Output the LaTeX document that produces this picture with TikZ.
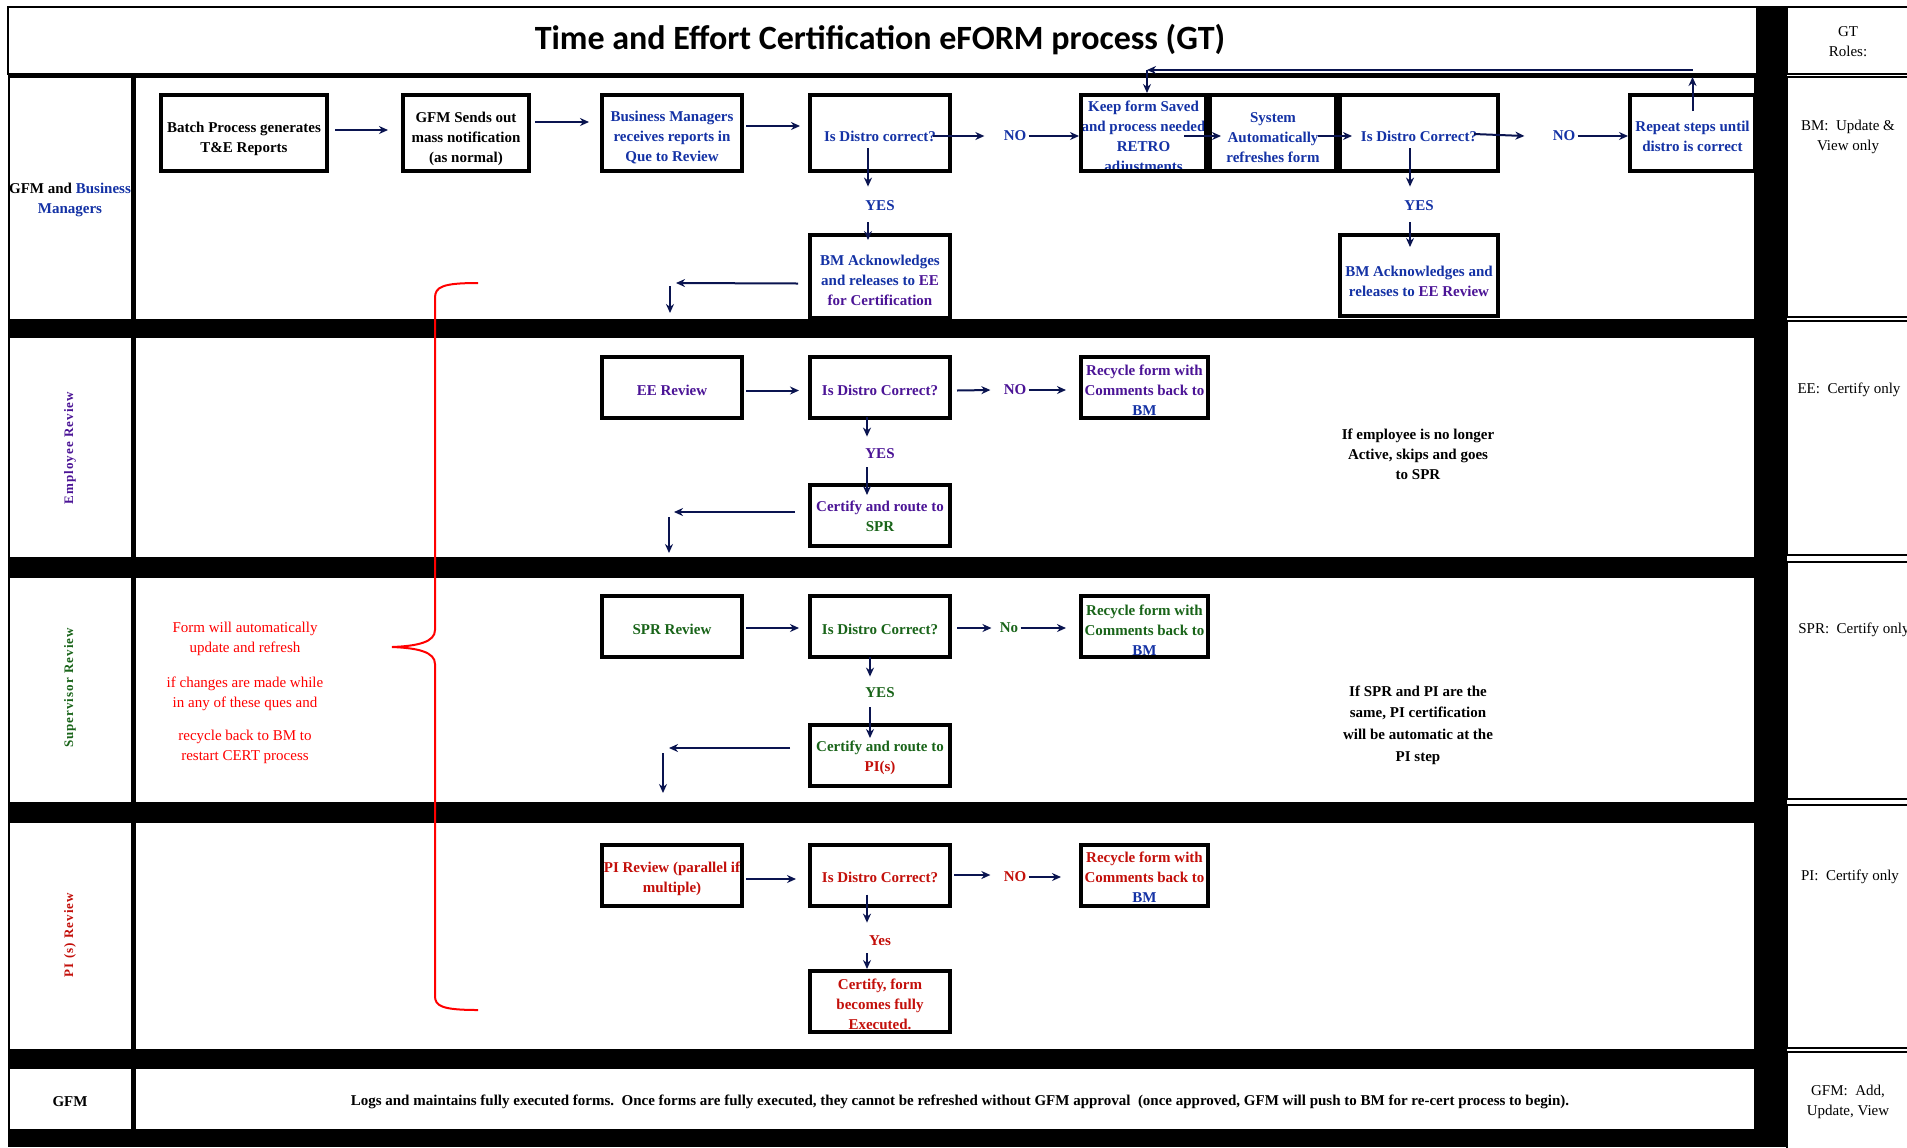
\documentclass[tikz,border=0pt]{standalone}
\usepackage{fontspec}
\setmainfont{Liberation Serif}
\newfontfamily\titlefont{Carlito}
\usepackage{tikz}
\usetikzlibrary{shapes.geometric, arrows, arrows.meta}
\definecolor{bmblue}{RGB}{20,50,165}
\definecolor{eepurple}{RGB}{75,20,150}
\definecolor{sprgreen}{RGB}{25,100,25}
\definecolor{pired}{RGB}{195,15,10}
\definecolor{notered}{RGB}{255,0,0}
\definecolor{arrownavy}{RGB}{10,20,80}
\newcommand{\boxfont}{\fontsize{7.5}{10}\selectfont\bfseries}
\newcommand{\rolefont}{\fontsize{7.5}{10}\selectfont}
\newcommand{\lanefont}{\fontsize{6.5}{8}\selectfont\bfseries\addfontfeature{LetterSpace=8}}
\tikzstyle{arrow} = [line width=1pt,->,>={Stealth[length=4.5pt,width=4pt]},draw=arrownavy]
\tikzstyle{stepbox} = [rectangle, draw=black, line width=2pt, align=center, inner sep=1pt, font=\boxfont]
\tikzstyle{toprow} = [stepbox, minimum height=38pt]
\tikzstyle{lanebox} = [stepbox, minimum width=70pt, minimum height=30.5pt, inner ysep=0pt]
\tikzstyle{ans} = [font=\boxfont, inner sep=1pt]
\tikzstyle{note} = [align=center, font=\boxfont]
\tikzstyle{role} = [align=center, font=\rolefont]
\tikzstyle{lanetitle} = [rotate=90, font=\lanefont]
\tikzstyle{cell} = [fill=white, draw=black, line width=0.6pt]

\begin{document}
\begin{tikzpicture}[x=0.5pt, y=-0.5pt, node distance=104pt]
		\useasboundingbox (0,0) rectangle (1907,1147);
		% swim lanes
		\fill [black] (8,74) rectangle (1787,1147);
		\fill [black] (1757,7) rectangle (1787,74);
		\draw [line width=1.2pt] (8,7) rectangle (1757,74);
		\draw [line width=1.2pt] (1757,7) -- (1907,7);
		\foreach \t/\b in {77/320, 337/558, 577/803, 822/1050, 1068/1130} {
			\draw [cell] (9,\t) rectangle (132,\b);
			\draw [cell] (135,\t) rectangle (1755,\b);
		}
		\foreach \t/\b in {7/74, 77/317, 321/555, 562/799, 805/1048, 1052/1160}
			\draw [line width=0.8pt] (1787,\t) rectangle (1920,\b);
		\node (title) [font=\titlefont\bfseries\fontsize{17}{20}\selectfont] at (880,40) {Time and Effort Certification eFORM process (GT)};
		% lane names
		\node (lane1) [note] at (70,200) {GFM and \textcolor{bmblue}{Business}\\\textcolor{bmblue}{Managers}};
		\node (lane2) [lanetitle, text=eepurple] at (70,448) {Employee Review};
		\node (lane3) [lanetitle, text=sprgreen] at (70,688) {Supervisor Review};
		\node (lane4) [lanetitle, text=pired] at (70,935) {PI (s) Review};
		\node (lane5) [note] at (70,1102) {GFM};
		% roles
		\node (rolehead) [role] at (1848,42) {GT\\Roles:};
		\node (role1) [role] at (1848,137) {BM:\ \ Update \&\\View only};
		\node (role2) [role] at (1849,390) {EE:\ \ Certify only};
		\node (role3) [role] at (1854,630) {SPR:\ \ Certify only};
		\node (role4) [role] at (1850,877) {PI:\ \ Certify only};
		\node (role5) [role] at (1848,1102) {GFM:\ \ Add,\\Update, View};

		% GFM and Business Managers
		\node (isd1) [toprow, minimum width=70pt, text height=9pt, text=bmblue] at (880,133) {Is Distro correct?};
		\node (bmrec) [toprow, minimum width=70pt, text height=30.2pt, text=bmblue, left of=isd1] {Business Managers\\receives reports in\\Que to Review};
		\node (gfm) [toprow, minimum width=63pt, text height=30.7pt, left of=bmrec, node distance=103pt] {GFM Sends out\\mass notification\\(as normal)};
		\node (batch) [toprow, minimum width=83pt, text height=21.2pt, left of=gfm, node distance=111pt] {Batch Process generates\\T\&E Reports};
		\node (bmack1) [stepbox, minimum width=70pt, minimum height=41.5pt, text height=28.8pt, text=bmblue] at (880,276.5) {BM Acknowledges\\and releases to \textcolor{eepurple}{EE}\\\textcolor{eepurple}{for Certification}};
		\begin{scope}
			\clip (1079,93) rectangle (1208,172);
			\node (keeptext) [note, text=bmblue] at (1143.5,138) {Keep form Saved\\and process needed\\RETRO\\adjustments};
		\end{scope}
		\node (keep) [toprow, minimum width=62.5pt] at (1143.5,133) {};
		\node (sys) [toprow, minimum width=63pt, text height=29.6pt, text=bmblue, right of=keep, node distance=64.75pt] {System\\Automatically\\refreshes form};
		\node (isd2) [toprow, minimum width=79pt, text height=9pt, text=bmblue, right of=sys, node distance=73pt] {Is Distro Correct?};
		\node (rep) [toprow, minimum width=62.5pt, text height=18.8pt, text=bmblue] at (1692.5,133) {Repeat steps until\\distro is correct};
		\node (bmack2) [stepbox, minimum width=79pt, minimum height=40.5pt, text height=20.6pt, text=bmblue] at (1419,275.5) {BM Acknowledges and\\releases to \textcolor{eepurple}{EE Review}};
		\node (no1) [ans, text=bmblue] at (1015,136) {NO};
		\node (yes1) [ans, text=bmblue] at (880,206) {YES};
		\node (no2) [ans, text=bmblue] at (1564,136) {NO};
		\node (yes2) [ans, text=bmblue] at (1419,206) {YES};
		\coordinate (loop) at (1147,70);
		\coordinate (bmout) at (676,283);
		\coordinate (bmdrop) at (670,286);
		\coordinate (bmdropend) at (670,313);

		\draw [arrow] ([xshift=3pt,yshift=1.5pt]batch.east) -- ([xshift=-6.5pt,yshift=1.5pt]gfm.west);
		\draw [arrow] ([xshift=2pt,yshift=5.5pt]gfm.east) -- ([xshift=-5.5pt,yshift=5.5pt]bmrec.west);
		\draw [arrow] ([xshift=1pt,yshift=3.5pt]bmrec.east) -- ([xshift=-4pt,yshift=3.5pt]isd1.west);
		\draw [arrow] ([xshift=-9.5pt,yshift=-1.5pt]isd1.east) -- ([xshift=-8.5pt]no1.west);
		\draw [arrow] (no1.east) -- (no1.east -| keep.west);
		\draw [arrow] ([xshift=-12pt,yshift=-1.5pt]keep.east) -- ([xshift=6.5pt,yshift=-1.5pt]sys.west);
		\draw [arrow] ([xshift=-10pt,yshift=-1.5pt]sys.east) -- ([xshift=7pt,yshift=-1.5pt]isd2.west);
		\draw [arrow] ([xshift=-13pt,yshift=-0.5pt]isd2.east) -- ([xshift=-13pt]no2.west);
		\draw [arrow] (no2.east) -- (no2.east -| rep.west);
		\draw [arrow] ([xshift=-6pt,yshift=12.5pt]isd1.south) -- ([xshift=-6pt,yshift=6pt]yes1.north);
		\draw [arrow] ([xshift=-6pt,yshift=-4.5pt]yes1.south) -- ([xshift=-6pt,yshift=-3.5pt]bmack1.north);
		\draw [arrow] ([xshift=-4.5pt,yshift=12.5pt]isd2.south) -- ([xshift=-4.5pt,yshift=6pt]yes2.north);
		\draw [arrow] ([xshift=-4.5pt,yshift=-4.5pt]yes2.south) -- ([xshift=-4.5pt,yshift=-7pt]bmack2.north);
		\draw [arrow] ([xshift=-5pt,yshift=-3.5pt]bmack1.west) -- (bmout);
		\draw [arrow] (bmdrop) -- (bmdropend);
		\draw [arrow] ([yshift=-9pt]rep.north) -- ([yshift=8pt]rep.north);
		\draw [arrow] ([yshift=11.5pt]rep.north) -- (loop);
		\draw [arrow] (loop) -- (loop |- keep.north);

		% Employee Review
		\node (isdee) [lanebox, text height=7.6pt, text=eepurple] at (880,387.5) {Is Distro Correct?};
		\node (eerev) [lanebox, text height=7.6pt, text=eepurple, left of=isdee] {EE Review};
		\node (recee) [lanebox, minimum width=63.5pt, text height=27.6pt, text=eepurple, right of=isdee, node distance=132.25pt] {Recycle form with\\Comments back to\\\textcolor{bmblue}{BM}};
		\node (certee) [lanebox, text height=17pt, text=eepurple, below of=isdee, node distance=63.75pt] {Certify and route to\\\textcolor{sprgreen}{SPR}};
		\node (noee) [ans, text=eepurple] at (1015,390) {NO};
		\node (yesee) [ans, text=eepurple] at (880,454) {YES};
		\node (noteee) [note] at (1418,454) {If employee is no longer\\Active, skips and goes\\to SPR};
		\coordinate (eeout) at (674,512);
		\coordinate (eedrop) at (669,517);
		\coordinate (eedropend) at (669,553);
		\draw [arrow] ([xshift=1pt,yshift=-1.5pt]eerev.east) -- ([xshift=-4.5pt,yshift=-1.5pt]isdee.west);
		\draw [arrow] ([xshift=2.5pt,yshift=-1.5pt]isdee.east) -- ([xshift=-5.5pt]noee.west);
		\draw [arrow] (noee.east) -- ([xshift=-6.5pt]noee.east -| recee.west);
		\draw [arrow] ([xshift=-6.5pt,yshift=1.5pt]isdee.south) -- ([xshift=-6.5pt,yshift=5pt]yesee.north);
		\draw [arrow] ([xshift=-6.5pt,yshift=-3pt]yesee.south) -- ([xshift=-6.5pt,yshift=-6.25pt]certee.north);
		\draw [arrow] ([xshift=-6.5pt,yshift=1.5pt]certee.west) -- (eeout);
		\draw [arrow] (eedrop) -- (eedropend);

		% Supervisor Review
		\node (isdspr) [lanebox, text height=7.6pt, text=sprgreen] at (880,626.5) {Is Distro Correct?};
		\node (sprrev) [lanebox, text height=7.6pt, text=sprgreen, left of=isdspr] {SPR Review};
		\node (recspr) [lanebox, minimum width=63.5pt, text height=28.8pt, text=sprgreen, right of=isdspr, node distance=132.25pt] {Recycle form with\\Comments back to\\\textcolor{bmblue}{BM}};
		\node (certspr) [lanebox, text height=17.6pt, text=sprgreen, below of=isdspr, node distance=64.25pt] {Certify and route to\\\textcolor{pired}{PI(s)}};
		\node (nospr) [ans, text=sprgreen] at (1009,628) {No};
		\node (yesspr) [ans, text=sprgreen] at (880,693) {YES};
		\node (notespr) [note, font=\fontsize{7.5}{10.8}\selectfont\bfseries] at (1418,725) {If SPR and PI are the\\same, PI certification\\will be automatic at the\\PI step};
		\node (rednote) [align=center, font=\rolefont, text=notered] at (245,692.5) {Form will automatically\\update and refresh\\[7.5pt]if changes are made while\\in any of these ques and\\[6.5pt]recycle back to BM to\\restart CERT process};
		\coordinate (sprout) at (669,748);
		\coordinate (sprdrop) at (663,753);
		\coordinate (sprdropend) at (663,793);
		\draw [arrow] ([xshift=1pt,yshift=-0.75pt]sprrev.east) -- ([xshift=-4.5pt,yshift=-0.75pt]isdspr.west);
		\draw [arrow] ([xshift=2.5pt,yshift=-0.75pt]isdspr.east) -- ([xshift=-3pt]nospr.west);
		\draw [arrow] (nospr.east) -- ([xshift=-6.5pt]nospr.east -| recspr.west);
		\draw [arrow] ([xshift=-5pt,yshift=1pt]isdspr.south) -- ([xshift=-5pt,yshift=4.5pt]yesspr.north);
		\draw [arrow] ([xshift=-5pt,yshift=-3.5pt]yesspr.south) -- ([xshift=-5pt,yshift=-7.75pt]certspr.north);
		\draw [arrow] ([xshift=-9pt,yshift=3.5pt]certspr.west) -- (sprout);
		\draw [arrow] (sprdrop) -- (sprdropend);

		% PI (s) Review
		\node (isdpi) [lanebox, text height=7.6pt, text=pired] at (880,875) {Is Distro Correct?};
		\node (pirev) [lanebox, text height=18.8pt, text=pired, left of=isdpi] {PI Review (parallel if\\multiple)};
		\node (recpi) [lanebox, minimum width=63.5pt, text height=27.6pt, text=pired, right of=isdpi, node distance=132.25pt] {Recycle form with\\Comments back to\\\textcolor{bmblue}{BM}};
		\node (certpi) [lanebox, text height=28.2pt, text=pired, below of=isdpi, node distance=63.25pt] {Certify, form\\becomes fully\\Executed.};
		\node (nopi) [ans, text=pired] at (1015,877) {NO};
		\node (yespi) [ans, text=pired] at (880,941) {Yes};
		\draw [arrow] ([xshift=1pt,yshift=-2pt]pirev.east) -- ([xshift=-6pt,yshift=-2pt]isdpi.west);
		\draw [arrow] ([xshift=1pt]isdpi.east) -- ([xshift=-5.5pt,yshift=1pt]nopi.west);
		\draw [arrow] (nopi.east) -- ([xshift=-9pt]nopi.east -| recpi.west);
		\draw [arrow] ([xshift=-6.5pt,yshift=6.5pt]isdpi.south) -- ([xshift=-6.5pt,yshift=5.5pt]yespi.north);
		\draw [arrow] ([xshift=-6.5pt,yshift=-2.5pt]yespi.south) -- ([xshift=-6.5pt]certpi.north);

		% GFM
		\node (gfmnote) [note] at (960,1102) {Logs and maintains fully executed forms.\ \ Once forms are fully executed, they cannot be refreshed without GFM approval\ \ (once approved, GFM will push to BM for re-cert process to begin).};

		% brace over the review lanes
		\draw [notered, line width=1pt] (478,283) .. controls (442,283) and (435,287) .. (435,298) -- (435,630) .. controls (435,642) and (418,646) .. (392,647) .. controls (418,648) and (435,652) .. (435,664) -- (435,996) .. controls (435,1006) and (442,1010) .. (478,1010);
\end{tikzpicture}
\end{document}
